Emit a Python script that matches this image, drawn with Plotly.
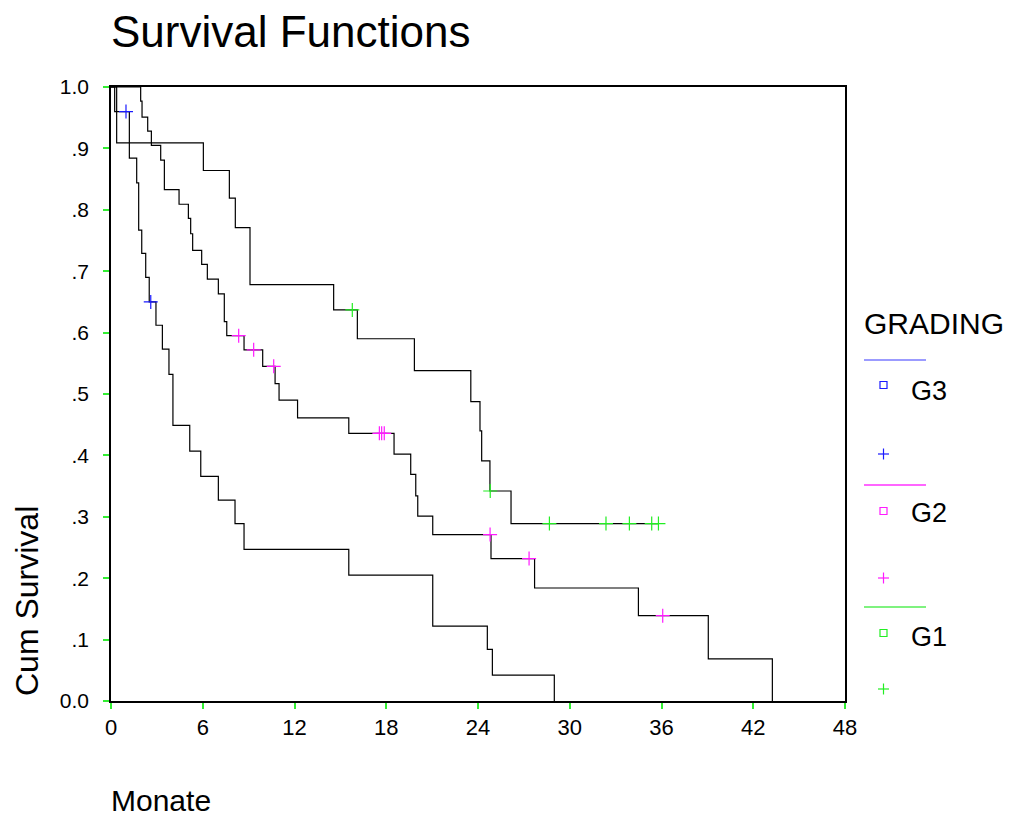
import numpy as np
import plotly.graph_objects as go

# Kaplan-Meier step data per grading group (time in months, cumulative survival)
g3_time = [0, 0.24, 1.20, 1.68, 1.81, 2.01, 2.27, 2.50, 2.94, 3.36, 3.79, 4.05, 5.15,
           5.87, 7.02, 8.11, 8.70, 15.55, 21.04, 24.61, 24.94, 28.99]
g3_surv = [1.0, 0.96, 0.884, 0.844, 0.767, 0.729, 0.690, 0.650, 0.612, 0.573, 0.532,
           0.449, 0.407, 0.366, 0.327, 0.289, 0.247, 0.205, 0.122, 0.084, 0.042, 0.0]
g3_censored = [0.98, 2.60]

g2_time = [0, 1.94, 2.03, 2.40, 2.64, 3.25, 3.49, 4.45, 5.06, 5.21, 5.34, 5.93, 6.30,
           7.02, 7.41, 7.57, 8.70, 9.92, 10.73, 10.99, 12.20, 15.55, 18.51, 19.60,
           19.93, 20.06, 21.04, 24.85, 27.70, 34.49, 39.06, 43.25]
g2_surv = [1.0, 0.977, 0.951, 0.928, 0.905, 0.881, 0.833, 0.809, 0.786, 0.761, 0.734,
           0.711, 0.687, 0.663, 0.618, 0.595, 0.572, 0.545, 0.517, 0.490, 0.461, 0.436,
           0.402, 0.369, 0.334, 0.301, 0.271, 0.232, 0.184, 0.139, 0.0685, 0.0]
g2_censored = [8.35, 9.33, 10.64, 17.55, 17.70, 17.87, 24.79, 27.34, 36.08]

g1_time = [0, 0.37, 6.04, 7.74, 8.13, 9.09, 14.56, 16.11, 19.84, 23.53, 24.13, 24.24,
           24.78, 26.16]
g1_surv = [1.0, 0.909, 0.864, 0.819, 0.771, 0.678, 0.637, 0.590, 0.538, 0.4875, 0.440,
           0.391, 0.342, 0.289]
g1_censored = [15.78, 24.80, 28.67, 32.37, 33.90, 35.36, 35.80]

groups = ["G3", "G2", "G1"]
colors = {"G3": "#1a1aff", "G2": "#ff1aff", "G1": "#22ee22"}
legend_line_colors = {"G3": "#7a7aff", "G2": "#ff33ff", "G1": "#55ee55"}

x_ticks = [0, 6, 12, 18, 24, 30, 36, 42, 48]
y_ticks = [0.0, 0.1, 0.2, 0.3, 0.4, 0.5, 0.6, 0.7, 0.8, 0.9, 1.0]
y_tick_text = ["0.0", ".1", ".2", ".3", ".4", ".5", ".6", ".7", ".8", ".9", "1.0"]

FONT = "Liberation Sans, Arial, sans-serif"
W, H = 1010, 818
ML, MR, MT, MB = 111, 165, 87, 117
PW, PH = W - ML - MR, H - MT - MB


def xp(px):
    return (px - ML) / PW


def yp(py):
    return (H - MB - py) / PH


def step_value(times, surv, t):
    idx = np.searchsorted(np.asarray(times), t, side="right") - 1
    return surv[idx]


series = {
    "G3": (g3_time, g3_surv, g3_censored),
    "G2": (g2_time, g2_surv, g2_censored),
    "G1": (g1_time, g1_surv, g1_censored),
}

fig = go.Figure()

for g in groups:
    t, s, c = series[g]
    lx, ly = list(t), list(s)
    if c and max(c) > t[-1]:
        lx.append(max(c))
        ly.append(s[-1])
    fig.add_trace(go.Scatter(
        x=lx, y=ly, mode="lines", line=dict(color="black", width=1.2, shape="hv"),
        cliponaxis=False, hoverinfo="skip", showlegend=False))

for g in groups:
    t, s, c = series[g]
    cy = [step_value(t, s, ci) for ci in c]
    fig.add_trace(go.Scatter(
        x=c, y=cy, mode="markers",
        marker=dict(symbol="cross-thin", size=10, line=dict(color=colors[g], width=1.2)),
        cliponaxis=False, hoverinfo="skip", showlegend=False))

# Legend block on the right
shapes = []
annotations = []
legend_rows = {"G3": (360, 385, 391, 454), "G2": (485, 511, 513, 578), "G1": (607, 633, 637, 689)}
for g in groups:
    ly, sqy, ty, py = legend_rows[g]
    shapes.append(dict(type="line", xref="paper", yref="paper",
                       x0=xp(864), x1=xp(926), y0=yp(ly), y1=yp(ly),
                       line=dict(color=legend_line_colors[g], width=1.5)))
    shapes.append(dict(type="rect", xref="paper", yref="paper",
                       xsizemode="pixel", ysizemode="pixel",
                       xanchor=xp(883.5), yanchor=yp(sqy),
                       x0=-3.5, x1=3.5, y0=-3.5, y1=3.5,
                       line=dict(color=colors[g], width=1.2)))
    shapes.append(dict(type="line", xref="paper", yref="paper",
                       xsizemode="pixel", ysizemode="pixel",
                       xanchor=xp(883.5), yanchor=yp(py),
                       x0=-5.5, x1=5.5, y0=0, y1=0, line=dict(color=colors[g], width=1.2)))
    shapes.append(dict(type="line", xref="paper", yref="paper",
                       xsizemode="pixel", ysizemode="pixel",
                       xanchor=xp(883.5), yanchor=yp(py),
                       x0=0, x1=0, y0=-5.5, y1=5.5, line=dict(color=colors[g], width=1.2)))
    annotations.append(dict(text=g, xref="paper", yref="paper", x=xp(909), y=yp(ty),
                            xanchor="left", yanchor="middle", showarrow=False,
                            font=dict(family=FONT, size=27, color="black")))

annotations.append(dict(text="GRADING", xref="paper", yref="paper", x=xp(862), y=yp(323),
                        xanchor="left", yanchor="middle", showarrow=False,
                        font=dict(family=FONT, size=30, color="black")))
annotations.append(dict(text="Survival Functions", xref="paper", yref="paper",
                        x=xp(109), y=yp(32), xanchor="left", yanchor="middle",
                        showarrow=False, font=dict(family=FONT, size=44, color="black")))
annotations.append(dict(text="Monate", xref="paper", yref="paper", x=xp(109), y=yp(800),
                        xanchor="left", yanchor="middle", showarrow=False,
                        font=dict(family=FONT, size=30, color="black")))
annotations.append(dict(text="Cum Survival", xref="paper", yref="paper", x=xp(27),
                        y=yp(601), xanchor="center", yanchor="middle", textangle=-90,
                        showarrow=False, font=dict(family=FONT, size=32, color="black")))

fig.update_layout(
    width=W, height=H, margin=dict(l=ML, r=MR, t=MT, b=MB, pad=0),
    paper_bgcolor="white", plot_bgcolor="white", showlegend=False,
    shapes=shapes, annotations=annotations,
    font=dict(family=FONT, color="black"),
    xaxis=dict(range=[0, 48], tickvals=x_ticks, ticktext=[str(v) for v in x_ticks],
               showgrid=False, zeroline=False, showline=True, mirror=True,
               linecolor="black", linewidth=1.5, ticks="outside", ticklen=6,
               tickwidth=1.5, tickcolor="#33ee33", ticklabelstandoff=0,
               tickfont=dict(family=FONT, size=22, color="black")),
    yaxis=dict(range=[0, 1], tickvals=y_ticks, ticktext=y_tick_text,
               showgrid=False, zeroline=False, showline=True, mirror=True,
               linecolor="black", linewidth=1.5, ticks="outside", ticklen=6,
               tickwidth=1.5, tickcolor="#33ee33", ticklabelstandoff=10,
               tickfont=dict(family=FONT, size=21, color="black")),
)

fig.write_html("out.html")
